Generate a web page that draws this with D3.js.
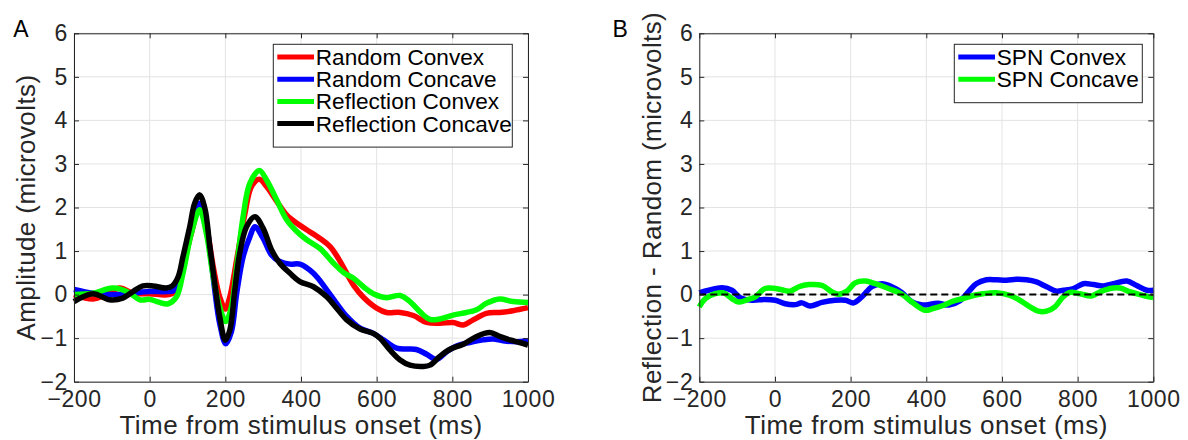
<!DOCTYPE html>
<html><head><meta charset="utf-8">
<script src="https://cdn.jsdelivr.net/npm/d3@7"></script>
<style>
body{margin:0;background:#fff;}
svg text{font-family:"Liberation Sans",Arial,Helvetica,sans-serif;}
</style>
</head><body>
<svg id="chart" width="1188" height="440"></svg>
<script>
// ---------------- DATA ----------------
const xTicks = [-200, 0, 200, 400, 600, 800, 1000];
const yTicks = [-2, -1, 0, 1, 2, 3, 4, 5, 6];
const xLabel = "Time from stimulus onset (ms)";
const yLabelA = "Amplitude (microvolts)";
const yLabelB = "Reflection - Random (microvolts)";

// Panel A
const randConvexT = [-200,-150,-120,-79,-44,0,50,71,88,110,132,150,168,185,200,212,230,252,269,290,309,336,362,389,415,450,477,503,525,540,565,600,626,662,697,732,767,802,829,855,890,925,960,1000];
const randConvexV = [0,-0.1,-0.02,0.15,0.03,0.02,0,0.1,0.64,1.4,2.02,1.56,0.64,-0.05,-0.33,-0.05,0.8,1.87,2.48,2.65,2.48,2.14,1.83,1.64,1.49,1.29,1.1,0.77,0.42,0.2,-0.06,-0.31,-0.41,-0.41,-0.48,-0.64,-0.66,-0.64,-0.7,-0.58,-0.43,-0.41,-0.37,-0.3];

const randConcaveT = [-200,-150,-100,-50,0,44,66,84,106,124,132,146,159,172,185,201,216,230,247,265,278,300,322,344,371,397,433,468,494,521,556,591,618,653,679,705,732,758,785,811,846,881,908,934,969,1000];
const randConcaveV = [0.12,0.03,0,0.03,0.07,0.07,0.1,0.53,1.33,1.95,2.1,1.83,1.03,0.11,-0.66,-1.13,-0.85,0.03,0.87,1.33,1.56,1.29,0.91,0.76,0.7,0.7,0.49,0.11,-0.2,-0.5,-0.77,-0.89,-1.04,-1.23,-1.25,-1.26,-1.37,-1.49,-1.31,-1.18,-1.1,-1.04,-1.02,-1.06,-1.08,-1.06];

const reflConvexT = [-200,-150,-100,-75,-50,-26,0,26,49,71,88,110,132,150,168,185,201,216,230,247,265,290,309,336,362,389,415,450,486,515,538,565,591,626,662,688,714,741,767,802,837,864,890,925,960,1000];
const reflConvexV = [0,0.03,0.15,0.12,0.02,-0.12,-0.11,-0.18,-0.21,-0.05,0.49,1.4,1.95,1.4,0.41,-0.28,-0.62,-0.28,0.64,1.79,2.56,2.85,2.63,2.17,1.72,1.45,1.26,1.06,0.72,0.49,0.38,0.18,0.02,-0.07,-0.02,-0.16,-0.39,-0.57,-0.56,-0.47,-0.41,-0.35,-0.2,-0.1,-0.16,-0.18];

const reflConcaveT = [-200,-150,-106,-71,-44,-18,9,44,60,75,88,106,119,132,146,159,172,185,200,212,225,238,256,278,300,322,344,371,397,433,468,494,521,556,591,609,635,662,688,723,741,767,793,829,864,899,925,952,978,1000];
const reflConcaveV = [-0.16,0.02,-0.12,-0.08,0.07,0.2,0.2,0.15,0.2,0.4,0.87,1.56,2.1,2.29,1.98,1.1,0.26,-0.5,-1.05,-0.81,0.1,0.95,1.56,1.79,1.52,1.03,0.72,0.49,0.3,0.18,-0.05,-0.31,-0.58,-0.79,-0.89,-1.0,-1.27,-1.5,-1.62,-1.65,-1.62,-1.42,-1.26,-1.14,-0.96,-0.87,-0.96,-1.04,-1.1,-1.16];

// Panel B
const spnConvexT = [-200,-175,-140,-114,-92,-61,-26,1,27,54,71,93,124,159,186,208,230,256,283,309,335,361,390,430,460,489,515,532,559,585,612,638,665,691,718,744,762,789,815,842,868,894,930,956,983,1000];
const spnConvexV = [0.04,0.1,0.16,0.1,-0.07,-0.13,-0.11,-0.13,-0.21,-0.23,-0.19,-0.26,-0.18,-0.13,-0.13,-0.19,-0.05,0.18,0.25,0.18,0.05,-0.16,-0.24,-0.2,-0.24,-0.14,0.1,0.25,0.34,0.34,0.33,0.35,0.34,0.29,0.18,0.08,0.1,0.14,0.25,0.23,0.2,0.25,0.31,0.21,0.1,0.1];

const spnConcaveT = [-200,-184,-158,-136,-114,-96,-70,-52,-26,1,18,40,63,89,124,151,168,190,212,239,265,300,335,362,396,418,444,471,497,524,550,585,621,647,674,696,718,740,762,780,806,837,859,886,912,939,974,1000];
const spnConcaveV = [-0.28,-0.09,0.02,0.04,-0.09,-0.17,-0.11,-0.05,0.14,0.14,0.11,0.08,0.18,0.23,0.21,0.06,0.01,0.08,0.27,0.31,0.25,0.14,0.01,-0.17,-0.36,-0.32,-0.25,-0.15,-0.09,-0.02,0.02,0.04,-0.02,-0.13,-0.28,-0.38,-0.38,-0.28,-0.05,0.05,0.02,-0.03,0.06,0.14,0.15,0.06,-0.02,-0.07];

const seriesNamesA = ["Random Convex", "Random Concave", "Reflection Convex", "Reflection Concave"];
const seriesNamesB = ["SPN Convex", "SPN Concave"];
const zeroLineX = [-200, 1000];

// ---------------- DRAW ----------------
const svg = d3.select("#chart");
const AX = "#262626";
const GRID = "#e3e3e3";
const FONT = '"Liberation Sans",Arial,Helvetica,sans-serif';

function zip(t, v) { return t.map((d, i) => ({ t: d, v: v[i] })); }

function drawPanel(cfg) {
  const x = d3.scaleLinear().domain([-200, 1000]).range([cfg.left, cfg.left + 454]);
  const y = d3.scaleLinear().domain([-2, 6]).range([381.7, 33.3]);
  const g = svg.append("g");

  // grid
  g.append("g").selectAll("line").data(xTicks).join("line")
    .attr("x1", d => x(d)).attr("x2", d => x(d))
    .attr("y1", y(-2)).attr("y2", y(6))
    .attr("stroke", GRID).attr("stroke-width", 1);
  g.append("g").selectAll("line").data(yTicks).join("line")
    .attr("x1", x(-200)).attr("x2", x(1000))
    .attr("y1", d => y(d)).attr("y2", d => y(d))
    .attr("stroke", GRID).attr("stroke-width", 1);

  // series
  const line = d3.line().x(d => x(d.t)).y(d => y(d.v)).curve(d3.curveCatmullRom.alpha(0.5));
  cfg.series.forEach(s => {
    g.append("path").datum(zip(s.t, s.v))
      .attr("d", line).attr("fill", "none")
      .attr("stroke", s.color).attr("stroke-width", 5.5)
      .attr("stroke-linejoin", "round").attr("stroke-linecap", "butt");
  });

  if (cfg.zeroLine) {
    g.append("path").datum(zeroLineX.map(t => ({ t: t, v: 0 })))
      .attr("d", d3.line().x(d => x(d.t)).y(d => y(d.v)))
      .attr("stroke", "#000").attr("stroke-width", 2)
      .attr("stroke-dasharray", "7,4").attr("fill", "none");
  }

  // axes
  const fmt = d3.format("d");
  function styleAxis(sel) {
    sel.selectAll("path.domain").attr("stroke", AX).attr("stroke-width", 1);
    sel.selectAll(".tick line").attr("stroke", AX).attr("stroke-width", 1);
    sel.selectAll("text").attr("fill", AX).style("font-family", FONT)
      .style("font-size", "23px").style("letter-spacing", "0.6px");
  }
  const gb = g.append("g").attr("transform", `translate(0,${y(-2)})`)
    .call(d3.axisBottom(x).tickValues(xTicks).tickFormat(fmt).tickSizeInner(-5).tickSizeOuter(0).tickPadding(9));
  styleAxis(gb);
  const gt = g.append("g").attr("transform", `translate(0,${y(6)})`)
    .call(d3.axisTop(x).tickValues(xTicks).tickSizeInner(-5).tickSizeOuter(0).tickFormat(""));
  styleAxis(gt);
  const gl = g.append("g").attr("transform", `translate(${x(-200)},0)`)
    .call(d3.axisLeft(y).tickValues(yTicks).tickFormat(fmt).tickSizeInner(-5).tickSizeOuter(0).tickPadding(6));
  styleAxis(gl);
  const gr = g.append("g").attr("transform", `translate(${x(1000)},0)`)
    .call(d3.axisRight(y).tickValues(yTicks).tickSizeInner(-5).tickSizeOuter(0).tickFormat(""));
  styleAxis(gr);

  // axis titles
  g.append("text").attr("x", (x(-200) + x(1000)) / 2).attr("y", 434)
    .attr("text-anchor", "middle").attr("fill", AX)
    .style("font-size", "26px").style("letter-spacing", "0.5px").text(xLabel);
  g.append("text")
    .attr("transform", `translate(${cfg.yTitleX},${(y(-2) + y(6)) / 2}) rotate(-90)`)
    .attr("text-anchor", "middle").attr("fill", AX)
    .style("font-size", "26px").style("letter-spacing", "0.4px").text(cfg.yLabel);

  // panel letter
  g.append("text").attr("x", cfg.letterX).attr("y", 36.7).attr("fill", "#000")
    .style("font-size", "23px").text(cfg.letter);

  // legend
  const L = cfg.legend;
  const lg = g.append("g");
  lg.append("rect").attr("x", L.x).attr("y", L.y).attr("width", L.w)
    .attr("height", 14 + cfg.series.length * 22.2)
    .attr("fill", "#fff").attr("stroke", AX).attr("stroke-width", 1);
  cfg.series.forEach((s, i) => {
    const cy = L.y + 12.7 + i * 22.2;
    lg.append("line").attr("x1", L.x + 4).attr("x2", L.x + 40.7)
      .attr("y1", cy).attr("y2", cy).attr("stroke", s.color).attr("stroke-width", 5);
    lg.append("text").attr("x", L.x + 42.5).attr("y", cy + 8).attr("fill", "#000")
      .style("font-size", "22.6px").text(s.name);
  });
}

drawPanel({
  left: 74, letter: "A", letterX: 13.3, yLabel: yLabelA, yTitleX: 34.5,
  legend: { x: 273.3, y: 44.3, w: 239 },
  series: [
    { name: seriesNamesA[0], t: randConvexT, v: randConvexV, color: "#ff0000" },
    { name: seriesNamesA[1], t: randConcaveT, v: randConcaveV, color: "#0000ff" },
    { name: seriesNamesA[2], t: reflConvexT, v: reflConvexV, color: "#00ff00" },
    { name: seriesNamesA[3], t: reflConcaveT, v: reflConcaveV, color: "#000000" }
  ]
});

drawPanel({
  left: 699.3, letter: "B", letterX: 612.5, yLabel: yLabelB, yTitleX: 660.5, zeroLine: true,
  legend: { x: 954.3, y: 44.3, w: 188 },
  series: [
    { name: seriesNamesB[0], t: spnConvexT, v: spnConvexV, color: "#0000ff" },
    { name: seriesNamesB[1], t: spnConcaveT, v: spnConcaveV, color: "#00ff00" }
  ]
});
</script>
</body></html>
